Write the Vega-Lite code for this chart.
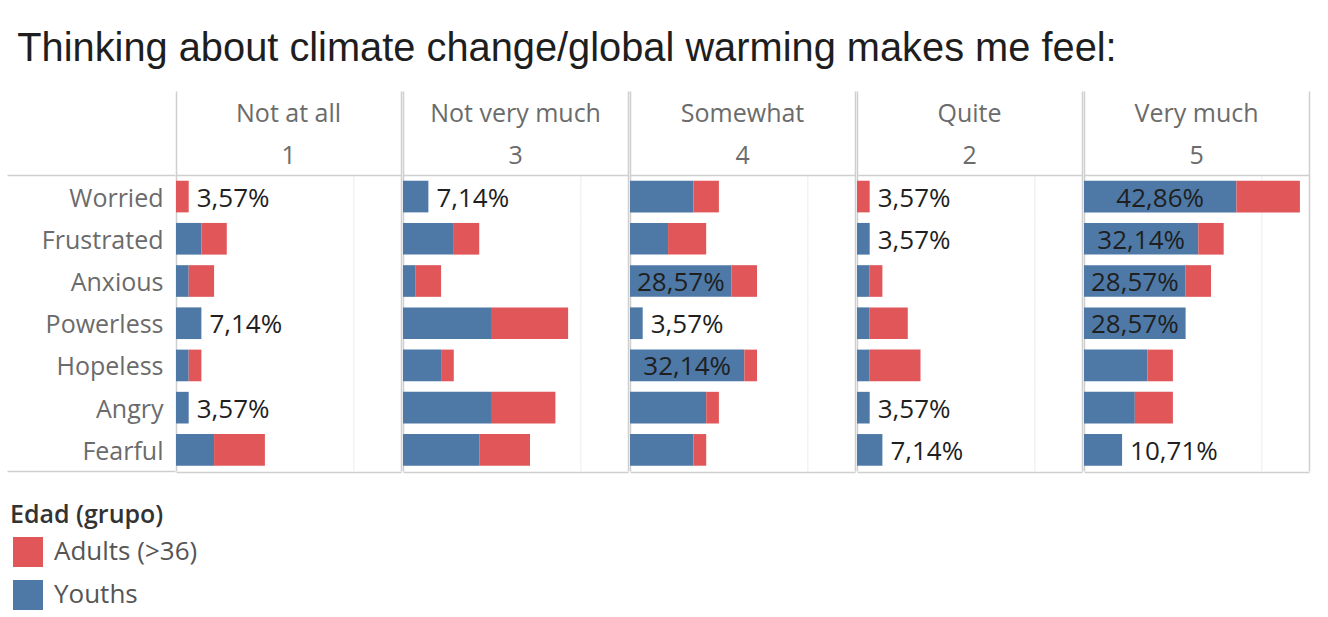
{
  "$schema": "https://vega.github.io/schema/vega-lite/v6.json",
  "background": "white",
  "padding": {"left": 6, "top": 29, "right": 10, "bottom": 5},
  "title": {"text": "Thinking about climate change/global warming makes me feel:", "anchor": "start", "frame": "bounds", "font": "Liberation Sans", "fontSize": 39.8, "fontWeight": "normal", "color": "#1e1e1e", "offset": 9, "dx": 11},
  "data": {"values": [
    {"level": "Not at all", "code": "1", "emotion": "Worried", "group": "Youths", "pct": 0},
    {"level": "Not at all", "code": "1", "emotion": "Worried", "group": "Adults (>36)", "pct": 3.57, "label": "3,57%"},
    {"level": "Not at all", "code": "1", "emotion": "Frustrated", "group": "Youths", "pct": 7.14},
    {"level": "Not at all", "code": "1", "emotion": "Frustrated", "group": "Adults (>36)", "pct": 7.14},
    {"level": "Not at all", "code": "1", "emotion": "Anxious", "group": "Youths", "pct": 3.57},
    {"level": "Not at all", "code": "1", "emotion": "Anxious", "group": "Adults (>36)", "pct": 7.14},
    {"level": "Not at all", "code": "1", "emotion": "Powerless", "group": "Youths", "pct": 7.14, "label": "7,14%"},
    {"level": "Not at all", "code": "1", "emotion": "Powerless", "group": "Adults (>36)", "pct": 0},
    {"level": "Not at all", "code": "1", "emotion": "Hopeless", "group": "Youths", "pct": 3.57},
    {"level": "Not at all", "code": "1", "emotion": "Hopeless", "group": "Adults (>36)", "pct": 3.57},
    {"level": "Not at all", "code": "1", "emotion": "Angry", "group": "Youths", "pct": 3.57, "label": "3,57%"},
    {"level": "Not at all", "code": "1", "emotion": "Angry", "group": "Adults (>36)", "pct": 0},
    {"level": "Not at all", "code": "1", "emotion": "Fearful", "group": "Youths", "pct": 10.71},
    {"level": "Not at all", "code": "1", "emotion": "Fearful", "group": "Adults (>36)", "pct": 14.29},

    {"level": "Not very much", "code": "3", "emotion": "Worried", "group": "Youths", "pct": 7.14, "label": "7,14%"},
    {"level": "Not very much", "code": "3", "emotion": "Worried", "group": "Adults (>36)", "pct": 0},
    {"level": "Not very much", "code": "3", "emotion": "Frustrated", "group": "Youths", "pct": 14.29},
    {"level": "Not very much", "code": "3", "emotion": "Frustrated", "group": "Adults (>36)", "pct": 7.14},
    {"level": "Not very much", "code": "3", "emotion": "Anxious", "group": "Youths", "pct": 3.57},
    {"level": "Not very much", "code": "3", "emotion": "Anxious", "group": "Adults (>36)", "pct": 7.14},
    {"level": "Not very much", "code": "3", "emotion": "Powerless", "group": "Youths", "pct": 25},
    {"level": "Not very much", "code": "3", "emotion": "Powerless", "group": "Adults (>36)", "pct": 21.43},
    {"level": "Not very much", "code": "3", "emotion": "Hopeless", "group": "Youths", "pct": 10.71},
    {"level": "Not very much", "code": "3", "emotion": "Hopeless", "group": "Adults (>36)", "pct": 3.57},
    {"level": "Not very much", "code": "3", "emotion": "Angry", "group": "Youths", "pct": 25},
    {"level": "Not very much", "code": "3", "emotion": "Angry", "group": "Adults (>36)", "pct": 17.86},
    {"level": "Not very much", "code": "3", "emotion": "Fearful", "group": "Youths", "pct": 21.43},
    {"level": "Not very much", "code": "3", "emotion": "Fearful", "group": "Adults (>36)", "pct": 14.29},

    {"level": "Somewhat", "code": "4", "emotion": "Worried", "group": "Youths", "pct": 17.86},
    {"level": "Somewhat", "code": "4", "emotion": "Worried", "group": "Adults (>36)", "pct": 7.14},
    {"level": "Somewhat", "code": "4", "emotion": "Frustrated", "group": "Youths", "pct": 10.71},
    {"level": "Somewhat", "code": "4", "emotion": "Frustrated", "group": "Adults (>36)", "pct": 10.71},
    {"level": "Somewhat", "code": "4", "emotion": "Anxious", "group": "Youths", "pct": 28.57, "label": "28,57%"},
    {"level": "Somewhat", "code": "4", "emotion": "Anxious", "group": "Adults (>36)", "pct": 7.14},
    {"level": "Somewhat", "code": "4", "emotion": "Powerless", "group": "Youths", "pct": 3.57, "label": "3,57%"},
    {"level": "Somewhat", "code": "4", "emotion": "Powerless", "group": "Adults (>36)", "pct": 0},
    {"level": "Somewhat", "code": "4", "emotion": "Hopeless", "group": "Youths", "pct": 32.14, "label": "32,14%"},
    {"level": "Somewhat", "code": "4", "emotion": "Hopeless", "group": "Adults (>36)", "pct": 3.57},
    {"level": "Somewhat", "code": "4", "emotion": "Angry", "group": "Youths", "pct": 21.43},
    {"level": "Somewhat", "code": "4", "emotion": "Angry", "group": "Adults (>36)", "pct": 3.57},
    {"level": "Somewhat", "code": "4", "emotion": "Fearful", "group": "Youths", "pct": 17.86},
    {"level": "Somewhat", "code": "4", "emotion": "Fearful", "group": "Adults (>36)", "pct": 3.57},

    {"level": "Quite", "code": "2", "emotion": "Worried", "group": "Youths", "pct": 0},
    {"level": "Quite", "code": "2", "emotion": "Worried", "group": "Adults (>36)", "pct": 3.57, "label": "3,57%"},
    {"level": "Quite", "code": "2", "emotion": "Frustrated", "group": "Youths", "pct": 3.57, "label": "3,57%"},
    {"level": "Quite", "code": "2", "emotion": "Frustrated", "group": "Adults (>36)", "pct": 0},
    {"level": "Quite", "code": "2", "emotion": "Anxious", "group": "Youths", "pct": 3.57},
    {"level": "Quite", "code": "2", "emotion": "Anxious", "group": "Adults (>36)", "pct": 3.57},
    {"level": "Quite", "code": "2", "emotion": "Powerless", "group": "Youths", "pct": 3.57},
    {"level": "Quite", "code": "2", "emotion": "Powerless", "group": "Adults (>36)", "pct": 10.71},
    {"level": "Quite", "code": "2", "emotion": "Hopeless", "group": "Youths", "pct": 3.57},
    {"level": "Quite", "code": "2", "emotion": "Hopeless", "group": "Adults (>36)", "pct": 14.29},
    {"level": "Quite", "code": "2", "emotion": "Angry", "group": "Youths", "pct": 3.57, "label": "3,57%"},
    {"level": "Quite", "code": "2", "emotion": "Angry", "group": "Adults (>36)", "pct": 0},
    {"level": "Quite", "code": "2", "emotion": "Fearful", "group": "Youths", "pct": 7.14, "label": "7,14%"},
    {"level": "Quite", "code": "2", "emotion": "Fearful", "group": "Adults (>36)", "pct": 0},

    {"level": "Very much", "code": "5", "emotion": "Worried", "group": "Youths", "pct": 42.86, "label": "42,86%"},
    {"level": "Very much", "code": "5", "emotion": "Worried", "group": "Adults (>36)", "pct": 17.86},
    {"level": "Very much", "code": "5", "emotion": "Frustrated", "group": "Youths", "pct": 32.14, "label": "32,14%"},
    {"level": "Very much", "code": "5", "emotion": "Frustrated", "group": "Adults (>36)", "pct": 7.14},
    {"level": "Very much", "code": "5", "emotion": "Anxious", "group": "Youths", "pct": 28.57, "label": "28,57%"},
    {"level": "Very much", "code": "5", "emotion": "Anxious", "group": "Adults (>36)", "pct": 7.14},
    {"level": "Very much", "code": "5", "emotion": "Powerless", "group": "Youths", "pct": 28.57, "label": "28,57%"},
    {"level": "Very much", "code": "5", "emotion": "Powerless", "group": "Adults (>36)", "pct": 0},
    {"level": "Very much", "code": "5", "emotion": "Hopeless", "group": "Youths", "pct": 17.86},
    {"level": "Very much", "code": "5", "emotion": "Hopeless", "group": "Adults (>36)", "pct": 7.14},
    {"level": "Very much", "code": "5", "emotion": "Angry", "group": "Youths", "pct": 14.29},
    {"level": "Very much", "code": "5", "emotion": "Angry", "group": "Adults (>36)", "pct": 10.71},
    {"level": "Very much", "code": "5", "emotion": "Fearful", "group": "Youths", "pct": 10.71, "label": "10,71%"},
    {"level": "Very much", "code": "5", "emotion": "Fearful", "group": "Adults (>36)", "pct": 0}
  ]},
  "facet": {"column": {"field": "level", "type": "nominal", "sort": ["Not at all", "Not very much", "Somewhat", "Quite", "Very much"], "header": {"title": null, "labels": false}}},
  "spacing": 0,
  "spec": {
    "width": 225.1,
    "height": 380,
    "layer": [
      {
        "transform": [{"filter": "datum.group === 'Youths'"}],
        "mark": {"type": "tick", "color": "#ececec", "thickness": 1.5, "size": 43},
        "encoding": {
          "x": {"datum": 50, "type": "quantitative", "scale": {"domain": [0, 63.3], "nice": false, "zero": true},
            "axis": {"title": null, "labels": false, "ticks": false, "domain": true, "domainColor": "#cfcfcf", "domainWidth": 1.5, "grid": true, "values": [0, 63.3], "gridColor": "#cfcfcf", "gridWidth": 1.5}},
          "y": {"field": "emotion", "type": "nominal", "scale": {"domain": ["h1", "h2", "Worried", "Frustrated", "Anxious", "Powerless", "Hopeless", "Angry", "Fearful"], "paddingInner": 0, "paddingOuter": 0},
            "axis": {"title": null, "labelExpr": "datum.value === 'h1' || datum.value === 'h2' ? '' : datum.value", "labelFont": "Open Sans", "labelFontSize": 25, "labelColor": "#6b6b6b", "labelOffset": 1.5, "domain": false, "grid": false, "ticks": true, "tickBand": "extent", "tickSize": 168, "tickColor": "#cfcfcf", "tickWidth": 1.5, "tickOpacity": {"condition": {"test": "datum.value === 'h2' || datum.value === 'Fearful'", "value": 1}, "value": 0}, "labelPadding": -156}}
        }
      },
      {
        "mark": {"type": "bar", "height": {"band": 0.75}},
        "encoding": {
          "x": {"field": "pct", "type": "quantitative", "stack": "zero"},
          "y": {"field": "emotion", "type": "nominal"},
          "color": {"field": "group", "type": "nominal", "scale": {"domain": ["Adults (>36)", "Youths"], "range": ["#e15759", "#4e79a7"]},
            "legend": {"title": "Edad (grupo)", "orient": "none", "legendX": -166, "legendY": 412, "direction": "vertical", "titleFont": "Open Sans", "titleFontSize": 25, "titleFontWeight": 600, "titleColor": "#333333", "labelFont": "Open Sans", "labelFontSize": 26, "labelColor": "#555555", "symbolType": "square", "symbolSize": 900, "symbolStrokeWidth": 0, "symbolOffset": 3, "rowPadding": 13, "labelOffset": 11, "titlePadding": 9}},
          "order": {"field": "group", "type": "ordinal", "sort": "descending"}
        }
      },
      {
        "transform": [{"filter": "datum.label != null && datum.pct >= 25"}],
        "mark": {"type": "text", "font": "Open Sans", "fontSize": 26, "color": "#1f1f1f", "align": "center", "baseline": "middle", "dy": 2},
        "encoding": {
          "x": {"field": "pct", "type": "quantitative", "stack": "zero", "bandPosition": 0.5},
          "y": {"field": "emotion", "type": "nominal"},
          "detail": {"field": "group"},
          "text": {"field": "label"}
        }
      },
      {
        "transform": [{"filter": "datum.label != null && datum.pct < 25"}],
        "mark": {"type": "text", "font": "Open Sans", "fontSize": 26, "color": "#1f1f1f", "align": "left", "baseline": "middle", "dx": 8, "dy": 2},
        "encoding": {
          "x": {"field": "pct", "type": "quantitative"},
          "y": {"field": "emotion", "type": "nominal"},
          "text": {"field": "label"}
        }
      },
      {
        "transform": [{"filter": "datum.emotion === 'Worried' && datum.group === 'Youths'"}],
        "mark": {"type": "text", "font": "Open Sans", "fontSize": 25, "color": "#6b6b6b", "align": "center", "baseline": "middle", "dy": 1.5},
        "encoding": {
          "x": {"datum": 31.65, "type": "quantitative"},
          "y": {"datum": "h1", "type": "nominal"},
          "text": {"field": "level"}
        }
      },
      {
        "transform": [{"filter": "datum.emotion === 'Worried' && datum.group === 'Youths'"}],
        "mark": {"type": "text", "font": "Open Sans", "fontSize": 25, "color": "#6b6b6b", "align": "center", "baseline": "middle", "dy": 1.5},
        "encoding": {
          "x": {"datum": 31.65, "type": "quantitative"},
          "y": {"datum": "h2", "type": "nominal"},
          "text": {"field": "code"}
        }
      },
      {
        "transform": [{"filter": "datum.emotion === 'Worried' && datum.group === 'Youths'"}],
        "mark": {"type": "rule", "color": "#cfcfcf", "strokeWidth": 1.5},
        "encoding": {
          "y": {"datum": "Worried", "type": "nominal", "bandPosition": 0}
        }
      }
    ]
  },
  "config": {
    "view": {"stroke": null},
    "font": "Open Sans"
  }
}
